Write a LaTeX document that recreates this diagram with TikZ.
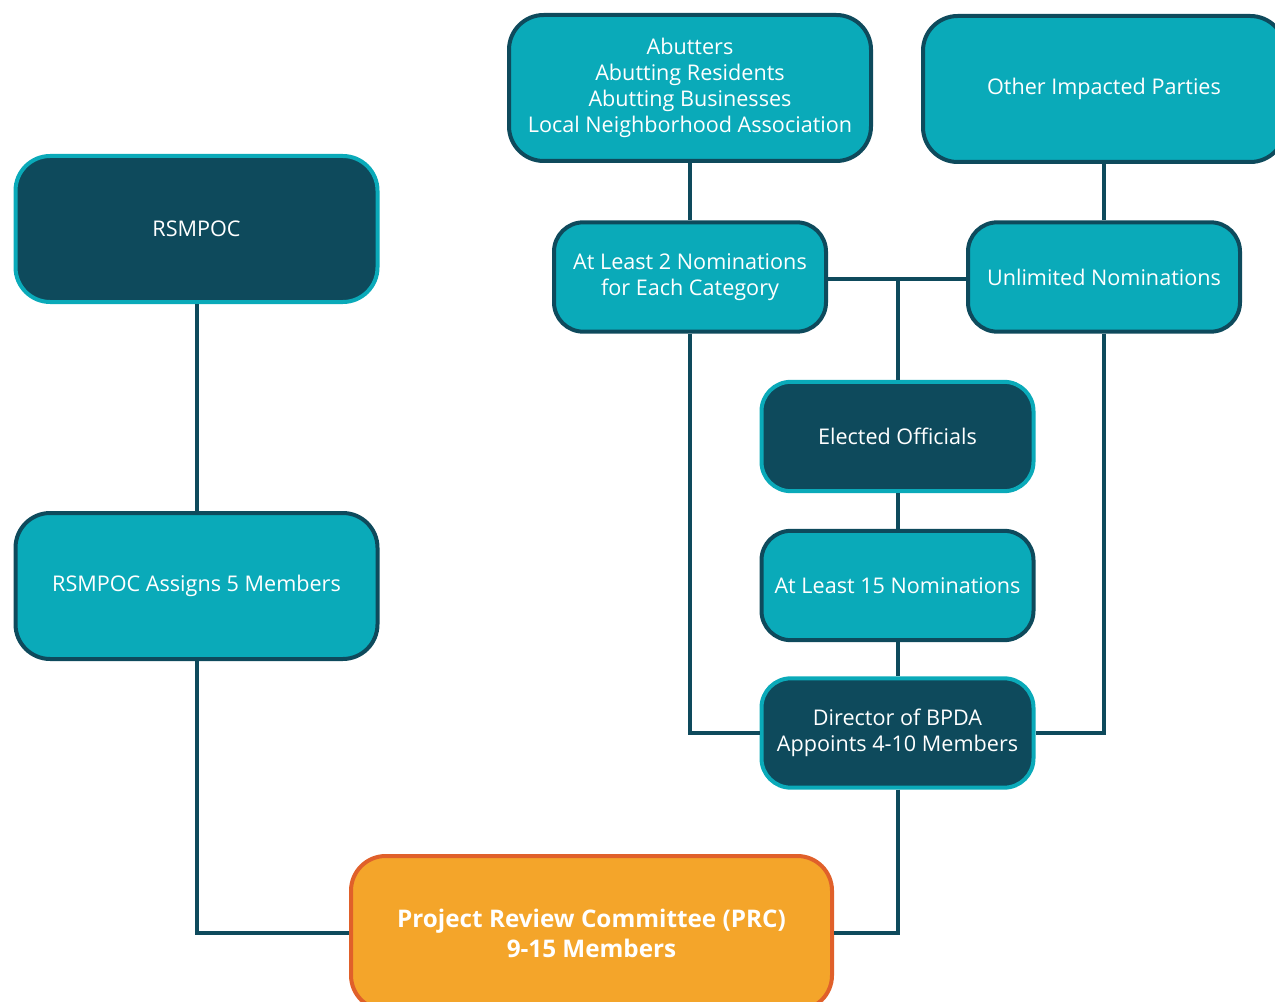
\documentclass[tikz,border=0pt]{standalone}
\usepackage{fontspec}
\setmainfont{Open Sans}
\definecolor{teal}{HTML}{0AAAB9}
\definecolor{navy}{HTML}{0E4A5C}
\definecolor{orangefill}{HTML}{F4A52A}
\definecolor{orangeline}{HTML}{E0602A}
\begin{document}
\begin{tikzpicture}[x=0.75pt,y=-0.75pt,
  base/.style={rectangle, line width=3pt, inner sep=0pt, align=center, text=white,
    font=\fontsize{16.2}{19.5}\selectfont},
  big/.style={base, minimum width=271.5pt, minimum height=109.5pt, rounded corners=26pt},
  small/.style={base, minimum width=204pt, minimum height=82pt, rounded corners=22pt},
  lightbox/.style={fill=teal, draw=navy},
  darkbox/.style={fill=navy, draw=teal},
  prcbox/.style={base, fill=orangefill, draw=orangeline, minimum width=360.75pt, minimum height=115.5pt,
    rounded corners=26pt, font=\fontsize{18.2}{22.5}\selectfont\bfseries},
  conn/.style={draw=navy, line width=3pt}]
\useasboundingbox (0,0) rectangle (1275,1002);
\node[big, darkbox] (rsm) at (196.5,229) {RSMPOC};
\node[big, lightbox] (assign) at (196.5,586) {RSMPOC Assigns 5 Members};
\node[big, lightbox] (abut) at (690,88) {Abutters\\Abutting Residents\\Abutting Businesses\\Local Neighborhood Association};
\node[big, lightbox] (other) at (1104,89) {Other Impacted Parties};
\node[small, lightbox] (two) at (690,277) {At Least 2 Nominations\\for Each Category};
\node[small, lightbox] (unl) at (1104,277) {Unlimited Nominations};
\node[small, darkbox] (elect) at (897.5,436.5) {Elected Officials};
\node[small, lightbox] (fifteen) at (897.5,585.5) {At Least 15 Nominations};
\node[small, darkbox] (dir) at (897.5,733) {Director of BPDA\\Appoints 4-10 Members};
\node[prcbox] (prc) at (591.5,933) {Project Review Committee (PRC)\\9-15 Members};
\coordinate (j) at (897.5,279);
\draw[conn] (rsm.south) -- (assign.north);
\draw[conn] (assign.south) |- (prc.west);
\draw[conn] (abut.south) -- (two.north);
\draw[conn] (other.south) -- (unl.north);
\draw[conn] (two.east |- j) -- (unl.west |- j);
\draw[conn] (j) -- (elect.north);
\draw[conn] (elect.south) -- (fifteen.north);
\draw[conn] (fifteen.south) -- (dir.north);
\draw[conn] (two.south) |- (dir.west);
\draw[conn] (unl.south) |- (dir.east);
\draw[conn] (dir.south) |- (prc.east);
\end{tikzpicture}
\end{document}
